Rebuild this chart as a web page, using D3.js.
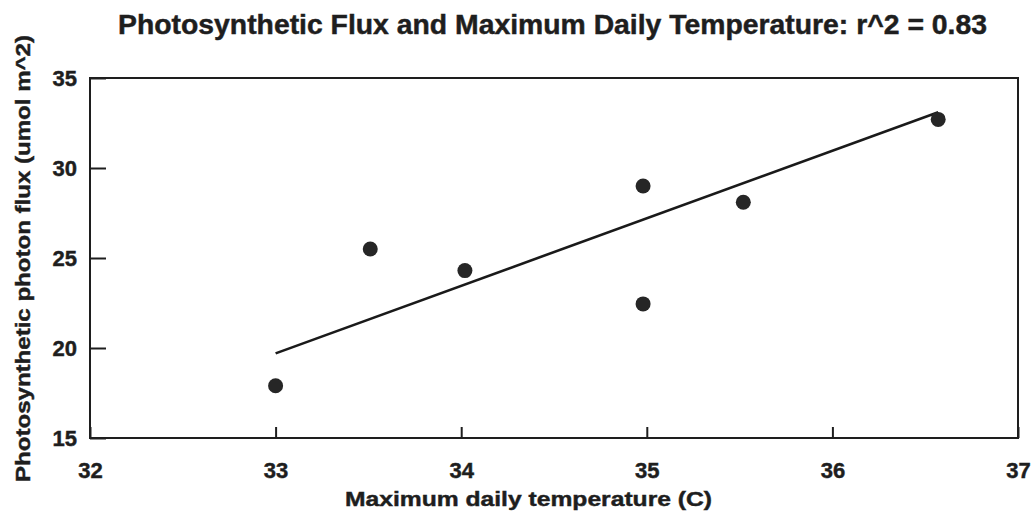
<!DOCTYPE html>
<html>
<head>
<meta charset="utf-8">
<script src="https://cdn.jsdelivr.net/npm/d3@7"></script>
<style>
  html, body { margin: 0; padding: 0; background: #ffffff; }
  svg { display: block; }
  text { font-family: "Liberation Sans", Arial, sans-serif; font-weight: bold; fill: #1e1e1e;
         stroke: #1e1e1e; stroke-width: 0.45px; }
</style>
</head>
<body>
<svg id="chart" width="1032" height="519"></svg>
<script>
// Observed points: maximum daily temperature (C) vs photosynthetic photon flux
const temperature = [33.0, 33.51, 34.02, 34.98, 34.98, 35.52, 36.57];
const photonFlux  = [17.9, 25.5, 24.3, 29.0, 22.45, 28.1, 32.7];

// Fitted trend line, drawn between its two end points
const trendTemp = [33.0, 36.57];
const trendFlux = [19.7, 33.1];

// Axis ticks
const xTicks = [32, 33, 34, 35, 36, 37];
const yTicks = [15, 20, 25, 30, 35];

const titleText = "Photosynthetic Flux and Maximum Daily Temperature: r^2 = 0.83";
const xLabel = "Maximum daily temperature (C)";
const yLabel = "Photosynthetic photon flux (umol m^2)";

const svg = d3.select("#chart");
const margin = { top: 78, right: 14, bottom: 81, left: 90 };
const W = 1032, H = 519;
const w = W - margin.left - margin.right;
const h = H - margin.top - margin.bottom;

const x = d3.scaleLinear().domain([32, 37]).range([0, w]);
const y = d3.scaleLinear().domain([15, 35]).range([h, 0]);

const g = svg.append("g").attr("transform", `translate(${margin.left},${margin.top})`);

// Plot frame
g.append("rect")
  .attr("x", 0).attr("y", 0).attr("width", w).attr("height", h)
  .attr("fill", "none").attr("stroke", "#1e1e1e").attr("stroke-width", 2);

// X axis: inward ticks, labels below
const xAxis = g.append("g")
  .attr("transform", `translate(0,${h})`)
  .call(d3.axisBottom(x).tickValues(xTicks).tickFormat(d3.format("d"))
    .tickSizeInner(-11).tickSizeOuter(0).tickPadding(24));
xAxis.select(".domain").remove();
xAxis.selectAll("line").attr("stroke", "#1e1e1e").attr("stroke-width", 2);
xAxis.selectAll("text").style("font-size", "22px").attr("fill", "#1e1e1e");

// Y axis: inward ticks, labels to the left
const yAxis = g.append("g")
  .call(d3.axisLeft(y).tickValues(yTicks).tickFormat(d3.format("d"))
    .tickSizeInner(-16).tickSizeOuter(0).tickPadding(13));
yAxis.select(".domain").remove();
yAxis.selectAll("line").attr("stroke", "#1e1e1e").attr("stroke-width", 2);
yAxis.selectAll("text").style("font-size", "22px").attr("fill", "#1e1e1e");

// Trend line
const line = d3.line().x(d => x(d[0])).y(d => y(d[1]));
g.append("path")
  .datum(d3.zip(trendTemp, trendFlux))
  .attr("d", line)
  .attr("fill", "none").attr("stroke", "#1a1a1a").attr("stroke-width", 2.6);

// Data points
g.selectAll("circle.pt")
  .data(d3.zip(temperature, photonFlux))
  .join("circle")
  .attr("class", "pt")
  .attr("cx", d => x(d[0]))
  .attr("cy", d => y(d[1]))
  .attr("r", 7.5)
  .attr("fill", "#262626");

// Title
svg.append("text")
  .attr("x", 118).attr("y", 34)
  .style("font-size", "27px")
  .attr("textLength", 869).attr("lengthAdjust", "spacingAndGlyphs")
  .text(titleText);

// X axis title
svg.append("text")
  .attr("x", 345).attr("y", 506)
  .style("font-size", "21px")
  .attr("textLength", 367).attr("lengthAdjust", "spacingAndGlyphs")
  .text(xLabel);

// Y axis title
svg.append("text")
  .attr("transform", "translate(30,482) rotate(-90)")
  .attr("x", 0).attr("y", 0)
  .style("font-size", "21px")
  .attr("textLength", 447).attr("lengthAdjust", "spacingAndGlyphs")
  .text(yLabel);
</script>
</body>
</html>
